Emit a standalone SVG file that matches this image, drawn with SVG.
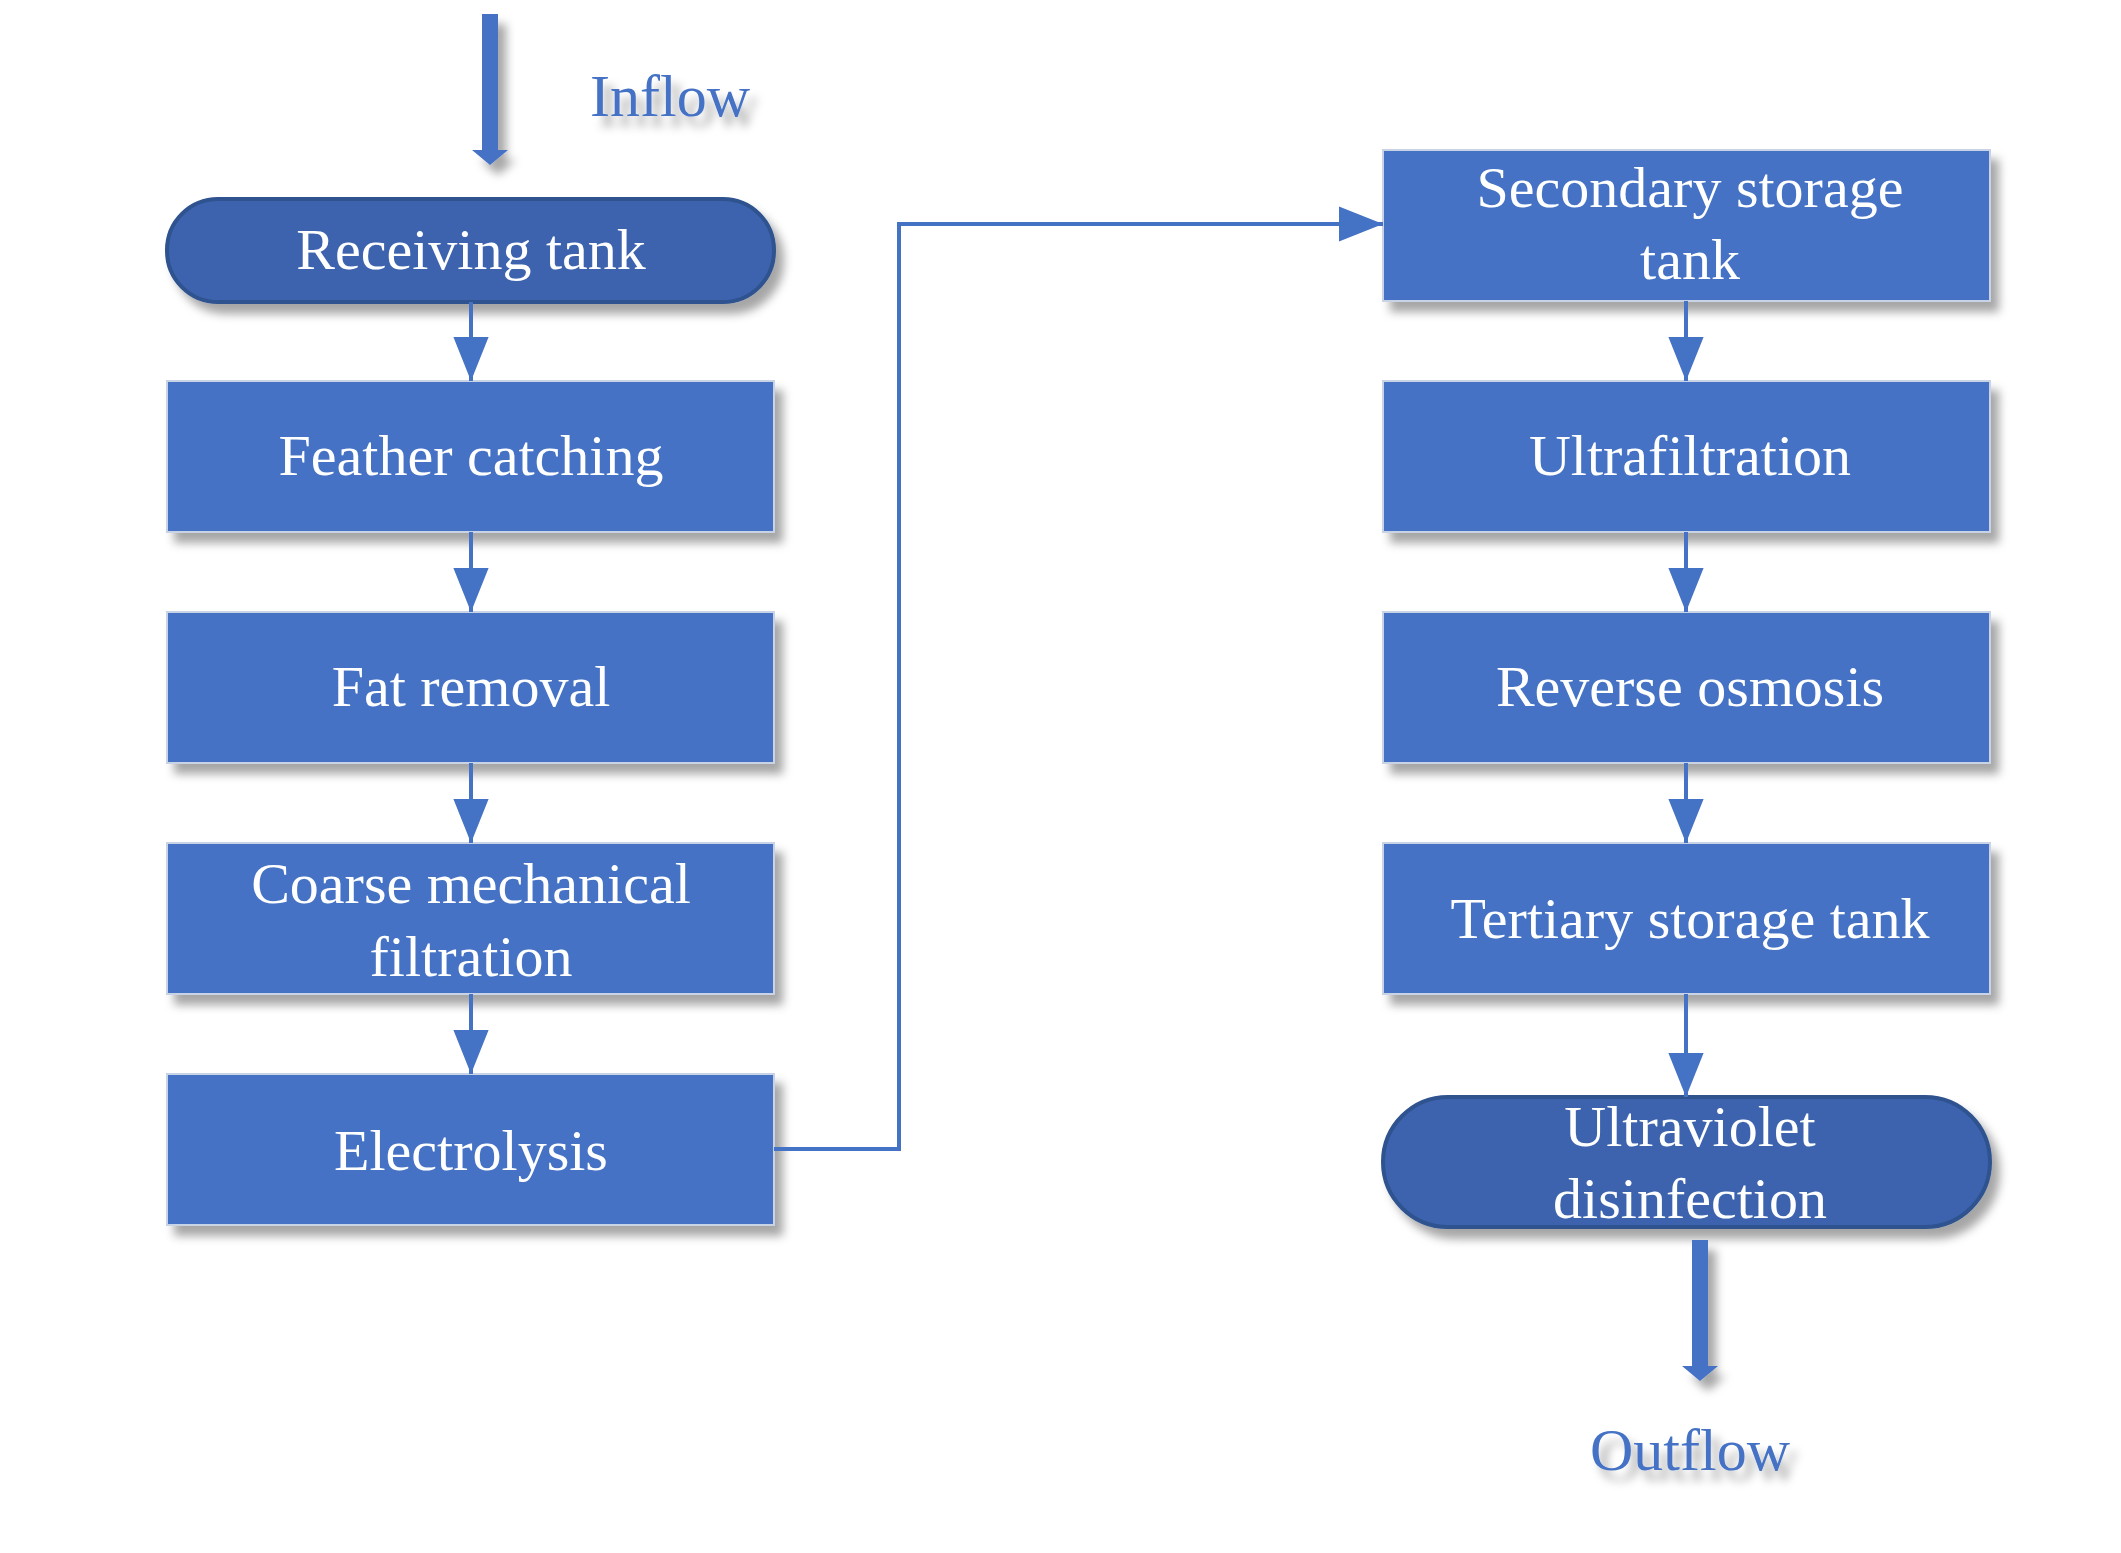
<svg xmlns="http://www.w3.org/2000/svg" width="2121" height="1553" viewBox="0 0 2121 1553">
<style>
.box{fill:#4472C4;stroke:#c9d3e6;stroke-width:2}
.pill{fill:#3C64AE;stroke:#2F528F;stroke-width:4}
.t{font-family:"Liberation Serif",serif;font-size:58px;fill:#fff;text-anchor:middle}
.lbl{font-family:"Liberation Serif",serif;font-size:60px;fill:#4472C4;text-anchor:middle}
.c{stroke:#4472C4;stroke-width:4;fill:none}
</style>
<defs>
<filter id="sh" x="-10%" y="-10%" width="130%" height="140%"><feDropShadow dx="8" dy="10" stdDeviation="5" flood-color="#000" flood-opacity="0.35"/></filter>
<marker id="a" markerWidth="12" markerHeight="12" refX="10" refY="6" orient="auto" markerUnits="userSpaceOnUse" viewBox="0 0 12 12"><path d="M0,0 L12,6 L0,12 z" fill="#4472C4"/></marker>
<marker id="b" viewBox="0 0 10 10" refX="10" refY="5" markerWidth="44" markerHeight="44" orient="auto" markerUnits="userSpaceOnUse"><path d="M0,1 L10,5 L0,9 z" fill="#4472C4"/></marker>
</defs>
<g id="inflow" filter="url(#sh)"><rect x="482" y="14" width="16" height="140" fill="#4472C4"/><path d="M472,150 L508,150 L490,165 z" fill="#4472C4"/><text class="lbl" x="670" y="116">Inflow</text></g>
<g id="receiving" filter="url(#sh)"><rect class="pill" x="167" y="199" width="607" height="103" rx="51"/><text class="t" x="471" y="269">Receiving tank</text></g>
<g id="feather" filter="url(#sh)"><rect class="box" x="167" y="381" width="607" height="151"/><text class="t" x="471" y="475">Feather catching</text></g>
<g id="fat" filter="url(#sh)"><rect class="box" x="167" y="612" width="607" height="151"/><text class="t" x="471" y="706">Fat removal</text></g>
<g id="coarse" filter="url(#sh)"><rect class="box" x="167" y="843" width="607" height="151"/><text class="t" x="471" y="903">Coarse mechanical</text><text class="t" x="471" y="976">filtration</text></g>
<g id="electrolysis" filter="url(#sh)"><rect class="box" x="167" y="1074" width="607" height="151"/><text class="t" x="471" y="1170">Electrolysis</text></g>
<g id="secondary" filter="url(#sh)"><rect class="box" x="1383" y="150" width="607" height="151"/><text class="t" x="1690" y="207">Secondary storage</text><text class="t" x="1690" y="279">tank</text></g>
<g id="ultrafiltration" filter="url(#sh)"><rect class="box" x="1383" y="381" width="607" height="151"/><text class="t" x="1690" y="475">Ultrafiltration</text></g>
<g id="ro" filter="url(#sh)"><rect class="box" x="1383" y="612" width="607" height="151"/><text class="t" x="1690" y="706">Reverse osmosis</text></g>
<g id="tertiary" filter="url(#sh)"><rect class="box" x="1383" y="843" width="607" height="151"/><text class="t" x="1690" y="938">Tertiary storage tank</text></g>
<g id="uv" filter="url(#sh)"><rect class="pill" x="1383" y="1097" width="607" height="130" rx="65"/><text class="t" x="1690" y="1146">Ultraviolet</text><text class="t" x="1690" y="1218">disinfection</text></g>
<g id="outflow" filter="url(#sh)"><rect x="1692" y="1240" width="16" height="130" fill="#4472C4"/><path d="M1682,1366 L1718,1366 L1700,1381 z" fill="#4472C4"/><text class="lbl" x="1690" y="1470">Outflow</text></g>
<g id="connectors">
<path class="c" d="M471,302 V381" marker-end="url(#b)"/>
<path class="c" d="M471,532 V612" marker-end="url(#b)"/>
<path class="c" d="M471,763 V843" marker-end="url(#b)"/>
<path class="c" d="M471,994 V1074" marker-end="url(#b)"/>
<path class="c" d="M774,1149 H899 V224 H1383" marker-end="url(#b)"/>
<path class="c" d="M1686,301 V381" marker-end="url(#b)"/>
<path class="c" d="M1686,532 V612" marker-end="url(#b)"/>
<path class="c" d="M1686,763 V843" marker-end="url(#b)"/>
<path class="c" d="M1686,994 V1097" marker-end="url(#b)"/>
</g>
</svg>
